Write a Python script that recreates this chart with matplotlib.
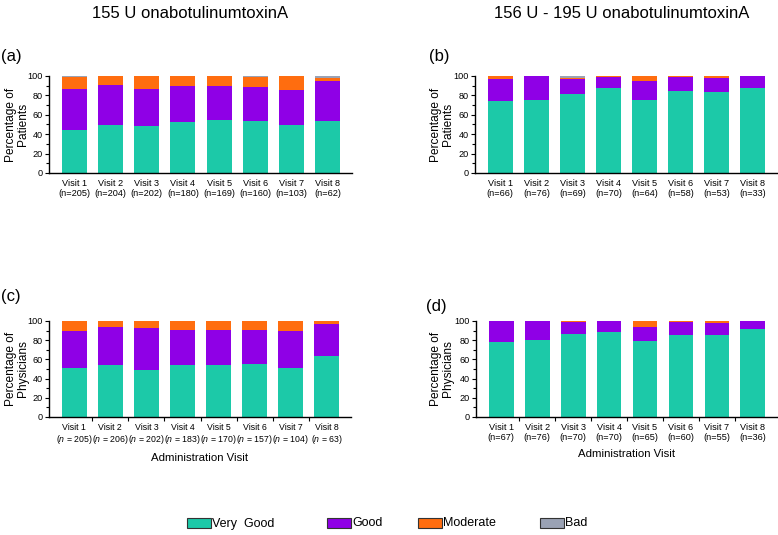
import numpy as np
import matplotlib.pyplot as plt
from matplotlib.patches import Rectangle
from matplotlib.ticker import MultipleLocator, FixedLocator

plt.rcParams['font.family'] = ['Liberation Sans', 'DejaVu Sans']
plt.rcParams['mathtext.fontset'] = 'custom'
plt.rcParams['mathtext.it'] = 'Liberation Sans:italic'
plt.rcParams['mathtext.rm'] = 'Liberation Sans'

# data (percentages)
visits = ['Visit 1', 'Visit 2', 'Visit 3', 'Visit 4', 'Visit 5', 'Visit 6', 'Visit 7', 'Visit 8']
n_a = [205, 204, 202, 180, 169, 160, 103, 62]
n_b = [66, 76, 69, 70, 64, 58, 53, 33]
n_c = [205, 206, 202, 183, 170, 157, 104, 63]
n_d = [67, 76, 70, 70, 65, 60, 55, 36]

vgood_a = [44.1, 50.0, 48.3, 52.8, 54.5, 53.8, 49.7, 53.1]
good_a = [42.5, 40.3, 38.3, 36.9, 35.2, 34.8, 35.8, 42.1]
mod_a = [12.0, 9.2, 13.4, 10.3, 10.3, 10.4, 14.5, 2.8]
bad_a = [1.4, 0.5, 0.0, 0.0, 0.0, 1.0, 0.0, 2.0]

vgood_b = [74.1, 75.2, 81.4, 87.2, 75.2, 84.5, 83.1, 87.9]
good_b = [22.8, 24.8, 15.5, 11.8, 20.0, 14.1, 15.2, 12.1]
mod_b = [3.1, 0.0, 0.7, 1.0, 4.8, 1.4, 1.7, 0.0]
bad_b = [0.0, 0.0, 2.4, 0.0, 0.0, 0.0, 0.0, 0.0]

vgood_c = [50.7, 53.8, 48.6, 53.8, 53.8, 55.2, 51.0, 63.5]
good_c = [38.9, 39.6, 43.8, 36.8, 36.8, 35.4, 38.6, 33.7]
mod_c = [10.4, 6.6, 7.6, 9.4, 9.4, 9.4, 10.4, 2.8]
bad_c = [0.0, 0.0, 0.0, 0.0, 0.0, 0.0, 0.0, 0.0]

vgood_d = [77.8, 80.6, 86.1, 88.9, 78.8, 85.4, 85.4, 91.7]
good_d = [22.2, 19.4, 12.9, 11.1, 15.3, 13.2, 12.9, 8.3]
mod_d = [0.0, 0.0, 1.0, 0.0, 5.9, 1.4, 1.7, 0.0]
bad_d = [0.0, 0.0, 0.0, 0.0, 0.0, 0.0, 0.0, 0.0]

categories = ['Very  Good', 'Good', 'Moderate', 'Bad']
colors = ['#1cc9a8', '#8f00e6', '#ff6d0f', '#9aa2b4']

W, H = 778, 535
fig = plt.figure(figsize=(W / 100, H / 100), dpi=100)


def px(x0, y_top, x1, y_bot):
    # pixel box -> figure rect
    return [x0 / W, 1 - y_bot / H, (x1 - x0) / W, (y_bot - y_top) / H]


def panel(rect, series, ns, ylabel, ylab_x, italic_n=False, xlabel=False, sep_ticks=False):
    ax = fig.add_axes(rect)
    x = np.arange(len(visits))
    bottom = np.zeros(len(visits))
    for vals, col in zip(series, colors):
        vals = np.array(vals)
        ax.bar(x, vals, width=0.69, bottom=bottom, color=col, edgecolor='none', zorder=2)
        bottom += vals
    ax.set_xlim(-0.7, 7.67)
    ax.set_ylim(0, 100)
    ax.yaxis.set_major_locator(MultipleLocator(20))
    ax.yaxis.set_minor_locator(MultipleLocator(10))
    for s in ['top', 'right']:
        ax.spines[s].set_visible(False)
    for s in ['left', 'bottom']:
        ax.spines[s].set_linewidth(1.0)
    if italic_n:
        labels = [f'{v}\n($n$ = {n})' for v, n in zip(visits, ns)]
        fs = 6.3
    else:
        labels = [f'{v}\n(n={n})' for v, n in zip(visits, ns)]
        fs = 6.6
    ax.set_xticks(x)
    ax.set_xticklabels(labels, fontsize=fs, linespacing=1.15)
    ax.tick_params(axis='x', length=0, pad=4)
    if sep_ticks:
        ax.xaxis.set_minor_locator(FixedLocator(x[:-1] + 0.5))
        ax.tick_params(axis='x', which='minor', length=3, width=0.8)
    ax.tick_params(axis='y', which='major', labelsize=6.6, length=3, width=0.8, pad=1.5)
    ax.tick_params(axis='y', which='minor', length=2, width=0.8)
    ax.set_ylabel(ylabel, fontsize=8.6, linespacing=1.0, va='center')
    ax.yaxis.set_label_coords(ylab_x, 0.5)
    if xlabel:
        ax.set_xlabel('Administration Visit', fontsize=8.2, labelpad=5)
    return ax


ax_a = panel(px(49, 76, 352, 173), [vgood_a, good_a, mod_a, bad_a], n_a,
             'Percentage of\nPatients', -0.106)
ax_b = panel(px(475, 76, 777, 173), [vgood_b, good_b, mod_b, bad_b], n_b,
             'Percentage of\nPatients', -0.109)
ax_c = panel(px(49, 321, 351, 417), [vgood_c, good_c, mod_c, bad_c], n_c,
             'Percentage of\nPhysicians', -0.106, italic_n=True, xlabel=True, sep_ticks=True)
ax_d = panel(px(476, 321, 777, 417), [vgood_d, good_d, mod_d, bad_d], n_d,
             'Percentage of\nPhysicians', -0.113, xlabel=True, sep_ticks=True)

# panel letters
for lx, ly, letter in [(1, 57, '(a)'), (429, 57, '(b)'), (1, 296, '(c)'), (426, 307, '(d)')]:
    fig.text(lx / W, 1 - ly / H, letter, fontsize=12, va='center', ha='left')

# column titles
fig.text(190 / W, 1 - 13 / H, '155 U onabotulinumtoxinA', fontsize=12,
         ha='center', va='center')
fig.text(622 / W, 1 - 13 / H, '156 U - 195 U onabotulinumtoxinA', fontsize=12,
         ha='center', va='center')

# legend drawn by hand to keep the uneven spacing
legend_x = [187, 327, 418, 540]
for lx, col, lab in zip(legend_x, colors, categories):
    fig.add_artist(Rectangle((lx / W, 1 - 528 / H), 24 / W, 10 / H,
                             transform=fig.transFigure, facecolor=col,
                             edgecolor='#333333', linewidth=0.8))
    fig.text((lx + 25) / W, 1 - 523.5 / H, lab, fontsize=9, va='center', ha='left')

fig.savefig('out.png', dpi=100)
